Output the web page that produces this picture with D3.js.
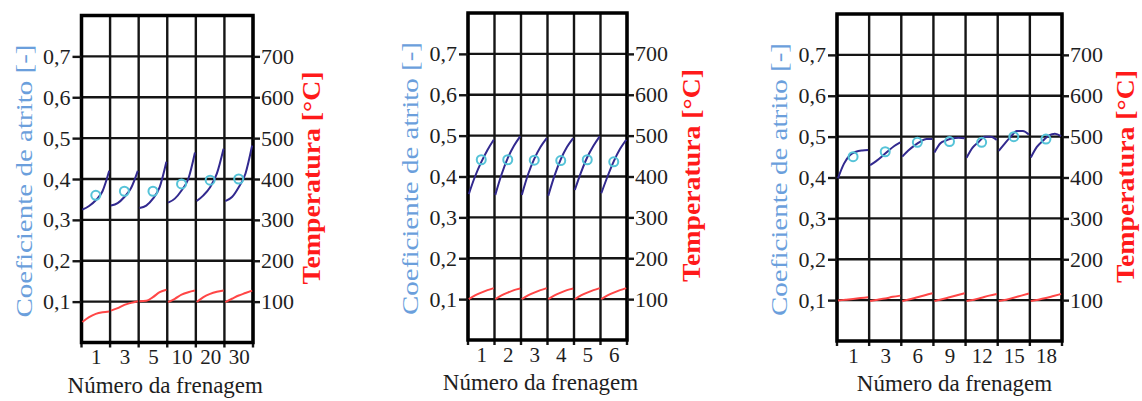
<!DOCTYPE html>
<html>
<head>
<meta charset="UTF-8">
<script src="https://d3js.org/d3.v7.min.js"></script>
</head>
<body style="margin:0">
<script>
// tick values shared by the three panels
const coefTicks = [0.1, 0.2, 0.3, 0.4, 0.5, 0.6, 0.7]
const tempTicks = [100, 200, 300, 400, 500, 600, 700]

// panel 1
const labels1 = ['1', '3', '5', '10', '20', '30']
const coef1 = [
  [0.325, 0.334, 0.348, 0.370, 0.420],
  [0.335, 0.341, 0.356, 0.378, 0.420],
  [0.329, 0.335, 0.352, 0.380, 0.442],
  [0.342, 0.352, 0.372, 0.400, 0.465],
  [0.346, 0.360, 0.380, 0.413, 0.474],
  [0.346, 0.356, 0.380, 0.413, 0.482]
]
const mean1 = [0.360, 0.370, 0.370, 0.388, 0.397, 0.400]
const temp1 = [
  [50, 62, 70, 74, 76],
  [78, 84, 92, 97, 101],
  [101, 102, 111, 123, 129],
  [99, 107, 117, 123, 127],
  [99, 111, 119, 124, 127],
  [99, 107, 115, 121, 127]
]

// panel 2
const labels2 = ['1', '2', '3', '4', '5', '6']
const coef2 = [
  [0.357, 0.400, 0.435, 0.465, 0.490],
  [0.355, 0.405, 0.445, 0.475, 0.498],
  [0.355, 0.405, 0.443, 0.472, 0.494],
  [0.353, 0.402, 0.442, 0.472, 0.494],
  [0.367, 0.410, 0.447, 0.475, 0.498],
  [0.359, 0.400, 0.437, 0.467, 0.490]
]
const mean2 = [0.441, 0.441, 0.440, 0.439, 0.441, 0.436]
const temp2 = [
  [100, 109, 116, 122, 127],
  [100, 109, 116, 122, 126],
  [100, 109, 116, 122, 127],
  [100, 109, 116, 122, 126],
  [100, 109, 116, 122, 127],
  [100, 109, 116, 122, 127]
]

// panel 3
const labels3 = ['1', '3', '6', '9', '12', '15', '18']
const coef3 = [
  [0.398, 0.434, 0.455, 0.463, 0.466, 0.467],
  [0.430, 0.440, 0.452, 0.465, 0.477, 0.486],
  [0.451, 0.466, 0.478, 0.488, 0.494, 0.494],
  [0.461, 0.484, 0.491, 0.496, 0.497, 0.496],
  [0.448, 0.473, 0.487, 0.500, 0.500, 0.492],
  [0.465, 0.483, 0.500, 0.514, 0.514, 0.505],
  [0.449, 0.475, 0.490, 0.503, 0.507, 0.501]
]
const mean3 = [0.451, 0.463, 0.486, 0.488, 0.486, 0.500, 0.494]
const temp3 = [
  [99, 101, 103, 105, 107],
  [98, 101, 104, 108, 111],
  [98, 102, 107, 112, 117],
  [98, 102, 107, 112, 117],
  [98, 101, 106, 111, 115],
  [98, 101, 106, 111, 116],
  [98, 101, 105, 110, 115]
]

const width = 1142
const height = 401
const fontCss = 'font-family: "Liberation Serif", monospace'

const panels = [
  { labels: labels1, coef: coef1, mean: mean1, temp: temp1,
    left: 81.5, right: 253, top: 15.5, bottom: 342.5, tOff: 58, xShift: -2 },
  { labels: labels2, coef: coef2, mean: mean2, temp: temp2,
    left: 468, right: 627, top: 13, bottom: 340, tOff: 64, xShift: -7 },
  { labels: labels3, coef: coef3, mean: mean3, temp: temp3,
    left: 837, right: 1062, top: 14, bottom: 341, tOff: 63, xShift: 5 }
]

const svg = d3.select('body')
              .append('svg')
              .attr('width', width)
              .attr('height', height)
              .style('display', 'block')

svg.append('rect').attr('width', width).attr('height', height).attr('fill', '#fff')

panels.forEach(drawPanel)

function drawPanel(p) {
  const n = p.labels.length
  const x = d3.scaleLinear().domain([0, n]).range([p.left, p.right])
  const y = d3.scaleLinear().domain([0, 0.8]).range([p.bottom, p.top])
  const yT = d3.scaleLinear().domain([0, 800]).range([p.bottom, p.top])
  const g = svg.append('g')

  // grid
  g.selectAll('line.h')
   .data(coefTicks)
   .enter()
   .append('line')
   .attr('class', 'h')
   .attr('x1', p.left).attr('x2', p.right)
   .attr('y1', d => y(d)).attr('y2', d => y(d))
   .attr('stroke', '#151515').attr('stroke-width', 2.4)

  g.selectAll('line.v')
   .data(d3.range(0, n + 1))
   .enter()
   .append('line')
   .attr('class', 'v')
   .attr('x1', d => x(d)).attr('x2', d => x(d))
   .attr('y1', p.top).attr('y2', p.bottom + 5)
   .attr('stroke', '#151515').attr('stroke-width', 2.4)

  g.append('rect')
   .attr('x', p.left).attr('y', p.top)
   .attr('width', p.right - p.left).attr('height', p.bottom - p.top)
   .attr('fill', 'none').attr('stroke', '#000').attr('stroke-width', 3.5)

  // axes
  const yAxis = d3.axisLeft(y)
                  .tickValues(coefTicks)
                  .tickFormat(d => d3.format('.1f')(d).replace('.', ','))
                  .tickSizeInner(9).tickSizeOuter(0).tickPadding(2)
  const tAxis = d3.axisRight(yT)
                  .tickValues(tempTicks)
                  .tickFormat(d3.format('d'))
                  .tickSizeInner(7).tickSizeOuter(0).tickPadding(1)
  const xAxis = d3.axisBottom(x)
                  .tickValues(d3.range(n).map(i => i + 0.5))
                  .tickFormat(d => p.labels[Math.floor(d)])
                  .tickSize(0).tickPadding(7)

  const styleAxis = (a, size) => {
    a.select('.domain').remove()
    a.attr('font-family', null).attr('font-size', null)
    a.selectAll('text').attr('fill', '#1e1e1e')
     .attr('style', fontCss + '; font-size: ' + size + 'px')
    a.selectAll('line').attr('stroke', '#151515').attr('stroke-width', 2.4)
  }

  g.append('g').attr('transform', 'translate(' + p.left + ',0)')
   .call(yAxis).call(a => styleAxis(a, 22))
  g.append('g').attr('transform', 'translate(' + p.right + ',0)')
   .call(tAxis).call(a => styleAxis(a, 22))
  g.append('g').attr('transform', 'translate(0,' + p.bottom + ')')
   .call(xAxis).call(a => styleAxis(a, 21))

  // curves, one piece for each braking block
  const pos = (i, j, len) => i + 0.03 + 0.94 * j / (len - 1)
  const coefLine = d3.line().x(d => x(d[0])).y(d => y(d[1])).curve(d3.curveMonotoneX)
  const tempLine = d3.line().x(d => x(d[0])).y(d => yT(d[1])).curve(d3.curveMonotoneX)

  g.selectAll('path.temp')
   .data(p.temp)
   .enter()
   .append('path')
   .attr('class', 'temp')
   .attr('d', (s, i) => tempLine(s.map((v, j) => [pos(i, j, s.length), v])))
   .attr('fill', 'none').attr('stroke', '#ff4646').attr('stroke-width', 2)

  g.selectAll('path.coef')
   .data(p.coef)
   .enter()
   .append('path')
   .attr('class', 'coef')
   .attr('d', (s, i) => coefLine(s.map((v, j) => [pos(i, j, s.length), v])))
   .attr('fill', 'none').attr('stroke', '#32298f').attr('stroke-width', 2)

  g.selectAll('circle.mean')
   .data(p.mean)
   .enter()
   .append('circle')
   .attr('class', 'mean')
   .attr('cx', (d, i) => x(i + 0.5))
   .attr('cy', d => y(d))
   .attr('r', 4.5)
   .attr('fill', 'none').attr('stroke', '#55c3d8').attr('stroke-width', 2)

  // titles
  const midY = (p.top + p.bottom) / 2
  g.append('text')
   .text('Coeficiente de atrito [-]')
   .attr('transform', 'translate(' + (p.left - 58) + ',' + (midY + 2) + ') rotate(-90)')
   .attr('dy', '0.35em')
   .attr('text-anchor', 'middle')
   .attr('style', fontCss + '; font-size: 23px')
   .attr('textLength', 273).attr('lengthAdjust', 'spacingAndGlyphs')
   .attr('fill', '#6b9fdc')

  g.append('text')
   .text('Temperatura [°C]')
   .attr('transform', 'translate(' + (p.right + p.tOff) + ',' + (midY - 1) + ') rotate(-90)')
   .attr('dy', '0.35em')
   .attr('text-anchor', 'middle')
   .attr('style', fontCss + '; font-size: 25px; font-weight: bold')
   .attr('textLength', 213).attr('lengthAdjust', 'spacingAndGlyphs')
   .attr('fill', '#ff1a1a')

  g.append('text')
   .text('Número da frenagem')
   .attr('x', (p.left + p.right) / 2 + p.xShift)
   .attr('y', p.bottom + 50)
   .attr('text-anchor', 'middle')
   .attr('style', fontCss + '; font-size: 23px')
   .attr('fill', '#1e1e1e')
}
</script>
</body>
</html>
